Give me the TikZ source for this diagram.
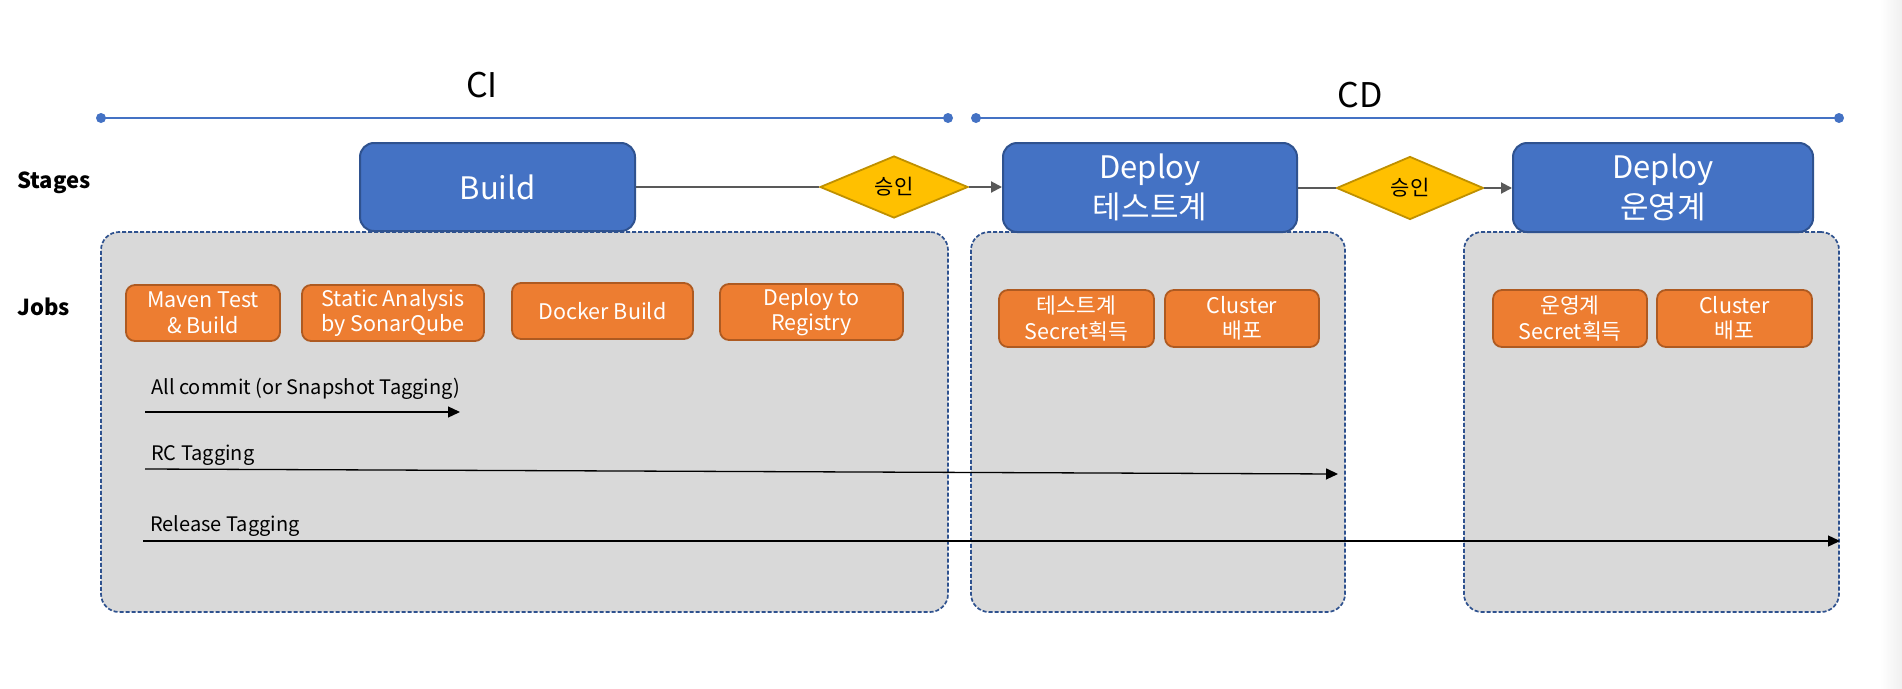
\documentclass[tikz,border=0pt]{standalone}
\usepackage{fontspec}
\setmainfont{Noto Sans CJK KR}
\usetikzlibrary{shapes.geometric,arrows.meta}
\definecolor{stblue}{HTML}{4472C4}
\definecolor{stborder}{HTML}{2F528F}
\definecolor{jborange}{HTML}{ED7D31}
\definecolor{jbborder}{HTML}{AE5A21}
\definecolor{apgold}{HTML}{FFC000}
\definecolor{apborder}{HTML}{BF9000}
\definecolor{grpgray}{HTML}{D9D9D9}
\definecolor{conngray}{HTML}{595959}
\begin{document}
\begin{tikzpicture}[x=1pt,y=-1pt,
 stagebox/.style={draw=stborder, fill=stblue, line width=2pt, rounded corners=14pt, text=white, align=center, inner sep=0pt, font=\fontsize{31}{40}\selectfont},
 jobbox/.style={draw=jbborder, fill=jborange, line width=1.8pt, rounded corners=9pt, text=white, align=center, inner sep=0pt, font=\fontsize{21.5}{25.5}\selectfont},
 approve/.style={diamond, draw=apborder, fill=apgold, line width=1.8pt, inner sep=0pt, font=\fontsize{21}{24}\selectfont, minimum width=148pt, minimum height=62pt},
 grpbox/.style={draw=stborder, fill=grpgray, line width=1.7pt, dash pattern=on 4pt off 2pt, rounded corners=18pt, inner sep=0pt},
 conn/.style={draw=conngray, line width=2pt},
 connarrow/.style={conn, -{Triangle[length=11pt,width=11pt]}},
 tagarrow/.style={draw=black, line width=1.3pt, -{Triangle[length=12pt,width=11pt]}},
 tagtext/.style={anchor=base west, inner sep=0pt, font=\fontsize{20}{22}\selectfont},
 timeline/.style={draw=stblue, line width=1.5pt},
 tldot/.style={circle, fill=stblue, inner sep=0pt, minimum size=10pt},
 rowlabel/.style={anchor=base west, inner sep=0pt, font=\fontsize{22}{26}\selectfont\bfseries}
]
\useasboundingbox (0,0) rectangle (1902,688);
\fill[white] (0,0) rectangle (1902,688);
\shade[left color=white, right color=black!6] (1880,0) rectangle (1902,688);

% timelines
\node[tldot] (cia) at (101,118) {};
\node[tldot] (cib) at (948,118) {};
\node[tldot] (cda) at (976,118) {};
\node[tldot] (cdb) at (1839,118) {};
\draw[timeline] (cia.center) -- (cib.center);
\draw[timeline] (cda.center) -- (cdb.center);
\node[font=\fontsize{34}{40}\selectfont, inner sep=0pt] (citxt) at (482,85) {CI};
\node[font=\fontsize{34}{40}\selectfont, inner sep=0pt] (cdtxt) at (1360,95) {CD};

% row labels
\node[rowlabel] (stages) at (17,188) {Stages};
\node[rowlabel] (jobs) at (17,315) {Jobs};

% groups
\node[grpbox, minimum width=847pt, minimum height=380pt] (cigrp) at (524.5,422) {};
\node[grpbox, minimum width=374pt, minimum height=380pt] (cd1grp) at (1158,422) {};
\node[grpbox, minimum width=375pt, minimum height=380pt] (cd2grp) at (1651.5,422) {};

% stages
\node[stagebox, minimum width=275pt, minimum height=88pt] (build) at (497.5,187) {Build};
\node[stagebox, minimum width=294pt, minimum height=89pt] (dep1) at (1150,187.5) {Deploy\\테스트계};
\node[stagebox, minimum width=300pt, minimum height=89pt] (dep2) at (1663,187.5) {Deploy\\운영계};
\node[approve] (ap1) at (894,187) {승인};
\node[approve, minimum width=147pt, minimum height=63pt] (ap2) at (1410,188) {승인};

\draw[conn] (build.east) -- (ap1.west);
\draw[connarrow] (ap1.east) -- (dep1.west |- ap1.east);
\draw[conn] (dep1.east |- ap2.west) -- (ap2.west);
\draw[connarrow] (ap2.east) -- (dep2.west |- ap2.east);

% jobs
\node[jobbox, minimum width=154pt, minimum height=56pt] (mvn) at (203,313) {Maven Test\\\& Build};
\node[jobbox, minimum width=182pt, minimum height=56pt] (sonar) at (393,313) {Static Analysis\\by SonarQube};
\node[jobbox, minimum width=181pt, minimum height=56pt] (docker) at (602.5,311) {Docker Build};
\node[jobbox, minimum width=183pt, minimum height=56pt] (reg) at (811.5,312) {Deploy to\\Registry};
\node[jobbox, minimum width=155pt, minimum height=57pt] (sec1) at (1076.5,318.5) {테스트계\\Secret획득};
\node[jobbox, minimum width=154pt, minimum height=57pt] (clu1) at (1242,318.5) {Cluster\\배포};
\node[jobbox, minimum width=154pt, minimum height=57pt] (sec2) at (1570,318.5) {운영계\\Secret획득};
\node[jobbox, minimum width=155pt, minimum height=57pt] (clu2) at (1734.5,318.5) {Cluster\\배포};

% tagging arrows
\node[tagtext] (t1) at (151,394) {All commit (or Snapshot Tagging)};
\node[tagtext] (t2) at (151,460) {RC Tagging};
\node[tagtext] (t3) at (150,531) {Release Tagging};
\coordinate (a1s) at (145,412);
\coordinate (a1e) at (460,412);
\coordinate (a2s) at (145,469);
\coordinate (a2e) at (1338,474);
\coordinate (a3s) at (143,541);
\coordinate (a3e) at (1840,541);
\draw[tagarrow] (a1s) -- (a1e);
\draw[tagarrow] (a2s) -- (a2e);
\draw[tagarrow] (a3s) -- (a3e);
\end{tikzpicture}
\end{document}
